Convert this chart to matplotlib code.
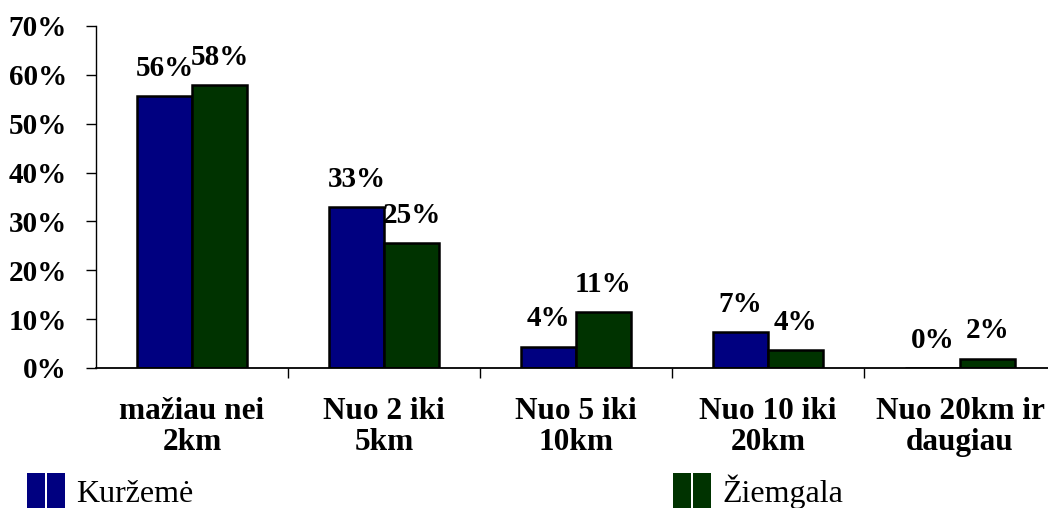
import matplotlib
matplotlib.use("Agg")
import matplotlib.pyplot as plt
import numpy as np
from matplotlib.patches import Patch
from matplotlib.legend_handler import HandlerTuple
from matplotlib.ticker import FixedLocator

# ============== DATA ==============
categories = ["mažiau nei\n2km", "Nuo 2 iki\n5km", "Nuo 5 iki\n10km", "Nuo 10 iki\n20km", "Nuo 20km ir\ndaugiau"]
kurzeme = [55.7, 32.9, 4.4, 7.3, 0.0]
ziemgala = [57.9, 25.5, 11.5, 3.7, 1.9]
kurzeme_labels = ["56%", "33%", "4%", "7%", "0%"]
ziemgala_labels = ["58%", "25%", "11%", "4%", "2%"]
yticks = [0, 10, 20, 30, 40, 50, 60, 70]
# ==================================

BLUE = "#000080"
GREEN = "#003300"
SERIF = ["Liberation Serif", "DejaVu Serif"]

plt.rcParams['font.family'] = SERIF

fig = plt.figure(figsize=(10.48, 5.08), dpi=100)
ax = fig.add_axes([96 / 1048, 140 / 508, 960 / 1048, 342 / 508])

x = np.arange(len(categories))
w = 0.286
b1 = ax.bar(x - w / 2, kurzeme, w, color=BLUE, edgecolor="black", linewidth=1.8)
b2 = ax.bar(x + w / 2, ziemgala, w, color=GREEN, edgecolor="black", linewidth=1.8)

# value labels above bars
for bars, labels in [(b1, kurzeme_labels), (b2, ziemgala_labels)]:
    for rect, lab in zip(bars, labels):
        ax.annotate(lab, (rect.get_x() + rect.get_width() / 2, rect.get_height()),
                    xytext=(0, 20), textcoords="offset points",
                    ha="center", va="center", fontsize=21, fontweight="bold")

ax.set_xlim(-0.5, len(categories) - 0.5)
ax.set_ylim(0, 70)
ax.set_yticks(yticks)
ax.set_yticklabels([f"{t}%" for t in yticks], fontsize=21, fontweight="bold")
ax.tick_params(axis="y", direction="out", length=7, width=1, pad=14)

ax.set_xticks(x)
ax.set_xticklabels(categories, fontsize=22.5, fontweight="bold", linespacing=1.1)
ax.tick_params(axis="x", which="major", length=0, pad=21)
ax.xaxis.set_minor_locator(FixedLocator(np.arange(len(categories)) + 0.5))
ax.tick_params(axis="x", which="minor", direction="out", length=7, width=1)

for s in ["top", "right"]:
    ax.spines[s].set_visible(False)
ax.spines["left"].set_linewidth(1)
ax.spines["bottom"].set_linewidth(1.3)

# legend
hb = Patch(facecolor=BLUE, edgecolor="none")
hg = Patch(facecolor=GREEN, edgecolor="none")
fig.legend([(hb, hb), (hg, hg)], ["Kuržemė", "Žiemgala"],
           handler_map={tuple: HandlerTuple(ndivide=None, pad=0.08)},
           ncol=2, frameon=False, loc="center left",
           bbox_to_anchor=(27 / 1048, 17 / 508),
           prop={"size": 23}, handlelength=1.2, handleheight=1.3,
           handletextpad=0.35, columnspacing=15.0, borderpad=0, borderaxespad=0)

fig.savefig("out.png", dpi=100)
